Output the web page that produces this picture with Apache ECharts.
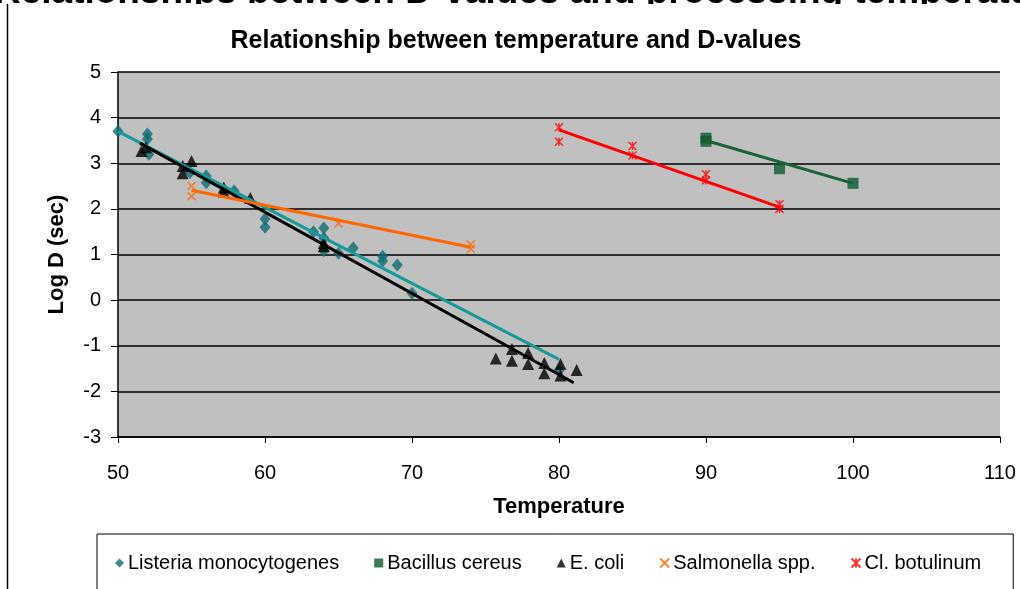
<!DOCTYPE html>
<html>
<head>
<meta charset="utf-8">
<script src="https://cdn.jsdelivr.net/npm/echarts@6/dist/echarts.min.js"></script>
<style>
  html, body { margin: 0; padding: 0; background: #fff; }
  #wrap { position: relative; width: 1020px; height: 589px; }
  #chart { width: 1020px; height: 589px; }
  /* heading of the page above the chart, cut off at the top */
  #heading { position: absolute; left: 0; top: 0; width: 1020px; height: 4px; overflow: hidden; }
  #heading span { position: absolute; left: -6px; top: -28px; white-space: nowrap;
    font: bold 37px/37px "Liberation Sans", Arial, sans-serif; color: #000; }
</style>
</head>
<body>
<div id="wrap">
  <div id="chart"></div>
  <div id="heading"><span>Relationships between D-values and processing temperature</span></div>
</div>
<script>
  // measured points (temperature, log D)
  var listeriaData = [[50, 3.7], [52, 3.64], [52, 3.53], [52.1, 3.2], [54.9, 2.8], [56, 2.72], [56, 2.57],
    [57.9, 2.39], [60, 1.78], [60, 1.6], [63.3, 1.5], [64, 1.58], [64, 1.36], [64, 1.08], [65, 1.03],
    [66, 1.14], [68, 0.96], [68, 0.86], [69, 0.77], [70, 0.15], [80, -1.55]];
  var bacillusData = [[90, 3.55], [90, 3.48], [95, 2.88], [100, 2.56]];
  var ecoliData = [[51.6, 3.27], [51.9, 3.35], [54.4, 2.78], [54.4, 2.94], [55, 3.05], [57.2, 2.38],
    [57.2, 2.47], [59, 2.24], [64, 1.18], [64, 1.25], [75.7, -1.28], [76.8, -1.07], [76.8, -1.33],
    [77.9, -1.16], [77.9, -1.4], [79, -1.38], [79, -1.6], [80.1, -1.4], [80.1, -1.65], [81.2, -1.53]];
  var salmonellaData = [[55, 2.5], [55, 2.28], [65, 1.68], [74, 1.22], [74, 1.12]];
  var botulinumData = [[80, 3.79], [80, 3.47], [85, 3.38], [85, 3.17], [90, 2.76], [90, 2.62], [95, 2.1], [95, 2.0]];

  // trendline end points
  var listeriaTrend = [[50, 3.7], [80, -1.3]];
  var bacillusTrend = [[90, 3.5], [100, 2.56]];
  var ecoliTrend = [[51.5, 3.44], [81, -1.81]];
  var salmonellaTrend = [[55, 2.41], [74, 1.16]];
  var botulinumTrend = [[80, 3.73], [95, 2.04]];

  var seriesNames = ['Listeria monocytogenes', 'Bacillus cereus', 'E. coli', 'Salmonella spp.', 'Cl. botulinum'];

  var xPath = 'path://M0,0L10,10M10,0L0,10';
  var starPath = 'path://M0,0L10,10M10,0L0,10M5,0L5,10';

  var font = '"Liberation Sans", Arial, sans-serif';

  function trend(data, color) {
    return {
      type: 'line',
      data: data,
      symbol: 'none',
      silent: true,
      z: 5,
      lineStyle: { color: color, width: 3 }
    };
  }

  var chart = echarts.init(document.getElementById('chart'));

  chart.setOption({
    animation: false,
    backgroundColor: '#fff',
    textStyle: { fontFamily: font },
    title: {
      text: 'Relationship between temperature and D-values',
      left: 511,
      textAlign: 'center',
      top: 24,
      textStyle: { fontSize: 25, fontWeight: 'bold', color: '#000', fontFamily: font }
    },
    graphic: [{
      type: 'line',
      shape: { x1: 7.5, y1: 4, x2: 7.5, y2: 589 },
      style: { stroke: '#000', lineWidth: 1.5 }
    }],
    legend: {
      data: seriesNames,
      left: 97,
      right: 0,
      top: 534,
      orient: 'horizontal',
      padding: [19, 32, 40, 18],
      itemGap: 35,
      itemWidth: 9,
      itemHeight: 9,
      borderColor: '#000',
      borderWidth: 1,
      textStyle: { fontSize: 20, color: '#000', fontFamily: font, padding: [0, 0, 0, -1] }
    },
    grid: { left: 118, right: 20, top: 72, bottom: 152, backgroundColor: '#c0c0c0', show: true, borderWidth: 0 },
    xAxis: {
      type: 'value',
      min: 50,
      max: 110,
      interval: 10,
      name: 'Temperature',
      nameLocation: 'middle',
      nameGap: 59,
      nameTextStyle: { fontSize: 22, fontWeight: 'bold', color: '#000', fontFamily: font },
      axisLine: { show: true, onZero: false, lineStyle: { color: '#000', width: 1.5 } },
      axisTick: { show: true, length: 6, lineStyle: { color: '#000' } },
      axisLabel: { fontSize: 20, color: '#000', margin: 26 },
      splitLine: { show: false }
    },
    yAxis: {
      type: 'value',
      min: -3,
      max: 5,
      interval: 1,
      name: 'Log D (sec)',
      nameLocation: 'middle',
      nameGap: 50,
      nameTextStyle: { fontSize: 22, fontWeight: 'bold', color: '#000', fontFamily: font },
      axisLine: { show: true, lineStyle: { color: '#000', width: 1.5 } },
      axisTick: { show: true, length: 7, lineStyle: { color: '#000' } },
      axisLabel: { fontSize: 20, color: '#000', margin: 17 },
      splitLine: { show: true, lineStyle: { color: '#000', width: 1.5 } }
    },
    series: [{
      name: seriesNames[0],
      type: 'scatter',
      data: listeriaData,
      symbol: 'diamond',
      symbolSize: [11, 13],
      itemStyle: { color: '#0b6d74' }
    }, {
      name: seriesNames[1],
      type: 'scatter',
      data: bacillusData,
      symbol: 'rect',
      symbolSize: 11,
      itemStyle: { color: '#0b5a2c' }
    }, {
      name: seriesNames[2],
      type: 'scatter',
      data: ecoliData,
      symbol: 'triangle',
      symbolSize: 12,
      itemStyle: { color: '#000' }
    }, {
      name: seriesNames[3],
      type: 'scatter',
      data: salmonellaData,
      symbol: xPath,
      symbolSize: 8,
      itemStyle: { color: 'rgba(0,0,0,0)', borderColor: '#ff6600', borderWidth: 1.5 }
    }, {
      name: seriesNames[4],
      type: 'scatter',
      data: botulinumData,
      symbol: starPath,
      symbolSize: 8,
      itemStyle: { color: 'rgba(0,0,0,0)', borderColor: '#ff0000', borderWidth: 1.5 }
    },
      trend(listeriaTrend, '#17999a'),
      trend(bacillusTrend, '#1a6238'),
      trend(ecoliTrend, '#000'),
      trend(salmonellaTrend, '#ff6600'),
      trend(botulinumTrend, '#ff0000')
    ]
  });
</script>
</body>
</html>
